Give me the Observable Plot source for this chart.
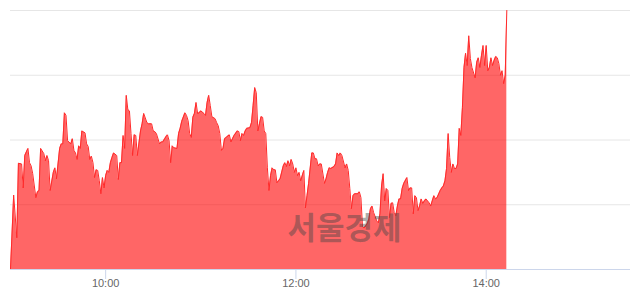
<!DOCTYPE html>
<html>
<head>
<meta charset="utf-8">
<script src="https://cdn.jsdelivr.net/npm/d3@7"></script>
<script src="https://cdn.jsdelivr.net/npm/@observablehq/plot@0.6"></script>
<style>
  html, body { margin: 0; padding: 0; background: #fff; }
  #chart { width: 640px; height: 294px; }
</style>
</head>
<body>
<div id="chart"></div>
<script>
const times = [
"9:00","9:02","9:04","9:05","9:07","9:08","9:09","9:11","9:12","9:13","9:14","9:16","9:17","9:18","9:19","9:21","9:22","9:23","9:24","9:25","9:27","9:28","9:29","9:31","9:32","9:33","9:34","9:35","9:36","9:38","9:39","9:40","9:41","9:42","9:43","9:44","9:45","9:47","9:48","9:49",
"9:50","9:51","9:52","9:53","9:54","9:55","9:56","9:57","9:58","9:59","10:00","10:01","10:02","10:03","10:04","10:05","10:07","10:08","10:09","10:10","10:11","10:12","10:13","10:14","10:15","10:16","10:17","10:18","10:19","10:20",
"10:22","10:23","10:24","10:26","10:27","10:29","10:30","10:31","10:32","10:34","10:35","10:36","10:38","10:39","10:40","10:41","10:42","10:43","10:45","10:46","10:47","10:48","10:50","10:51","10:52","10:53","10:54","10:55","10:56","10:57",
"10:58","10:59","11:00","11:02","11:03","11:04","11:05","11:06","11:07","11:09","11:10","11:11","11:12","11:13","11:14","11:15","11:16","11:18","11:19","11:20","11:21","11:23","11:24","11:25","11:26","11:27","11:28","11:29","11:31","11:32",
"11:33","11:34","11:35","11:36","11:37","11:38","11:39","11:40","11:41","11:42","11:43","11:44","11:45","11:46","11:47","11:48","11:49","11:50","11:52","11:53","11:54","11:55","11:56","11:57","11:58","11:59","12:00","12:01","12:02","12:03",
"12:05","12:06","12:07","12:08","12:10","12:11","12:12","12:13","12:14","12:15","12:16","12:18","12:19","12:20","12:21","12:22","12:24","12:25","12:26","12:27","12:28","12:29","12:31","12:32","12:33","12:34","12:35","12:36","12:37","12:39",
"12:40","12:41","12:42","12:43","12:45","12:46","12:47","12:48","12:49","12:51","12:52","12:53","12:54","12:55","12:56","12:57","12:58","12:59","13:00","13:01","13:02","13:03","13:04","13:05","13:06","13:07","13:08","13:10","13:11","13:12",
"13:13","13:14","13:15","13:16","13:17","13:18","13:19","13:20","13:21","13:22","13:24","13:25","13:26","13:27","13:28","13:29","13:31","13:32","13:33","13:34","13:35","13:36","13:37","13:38","13:39","13:40","13:41","13:42","13:43","13:44",
"13:45","13:46","13:47","13:48","13:49","13:50","13:51","13:53","13:54","13:55","13:56","13:57","13:58","13:59","14:00","14:01","14:02","14:03","14:04","14:05","14:06","14:07","14:08","14:09","14:10","14:11","14:12","14:13"
];
const prices = [
2000,2115,2049,2164,2163,2126,2176,2187,2165,2160,2148,2111,2120,2122,2187,2179,2168,2176,2168,2122,2150,2157,2140,2187,2194,2194,2242,2238,2199,2194,2202,2184,2180,2170,2191,2187,2214,2211,2194,2190,
2170,2175,2165,2142,2154,2153,2137,2117,2142,2126,2145,2153,2150,2165,2173,2180,2176,2139,2165,2165,2207,2187,2269,2247,2245,2210,2176,2208,2207,2176,
2214,2225,2241,2227,2225,2225,2214,2213,2210,2194,2197,2197,2205,2208,2199,2165,2191,2188,2187,2210,2218,2229,2242,2238,2230,2210,2204,2235,2241,2258,
2241,2242,2245,2241,2238,2258,2269,2253,2236,2233,2227,2222,2210,2184,2187,2202,2204,2208,2197,2202,2207,2214,2213,2199,2210,2207,2214,2218,2219,2227,
2253,2281,2273,2214,2225,2236,2235,2214,2210,2157,2122,2145,2157,2154,2154,2134,2137,2140,2160,2165,2159,2168,2160,2170,2163,2150,2157,2145,2150,2137,
2153,2095,2114,2133,2180,2180,2171,2171,2160,2163,2163,2133,2140,2150,2157,2156,2159,2163,2180,2176,2180,2176,2157,2163,2153,2125,2094,2114,2117,2117,
2120,2111,2066,2064,2071,2078,2094,2098,2088,2075,2072,2086,2129,2148,2106,2125,2122,2080,2102,2103,2088,2083,2098,2109,2109,2125,2133,2142,2122,2126,
2126,2086,2114,2111,2091,2098,2109,2102,2106,2109,2103,2098,2106,2114,2109,2111,2122,2126,2129,2137,2156,2210,2173,2150,2163,2156,2156,2163,2218,2207,
2250,2312,2334,2315,2361,2326,2312,2296,2320,2327,2312,2330,2346,2315,2346,2307,2312,2327,2315,2323,2329,2327,2318,2300,2307,2287,2300,2400
];
const tickTimes = ["10:00","12:00","14:00"];
const gridValues = [2100, 2200, 2300, 2400];
const baseValue = 2000;
const topValue = 2400;
const domainTimes = ["9:00","15:31"];
const watermark = "서울경제";

const toDate = s => { const [h, m] = s.split(":").map(Number); return new Date(Date.UTC(2024, 0, 2, h, m)); };
const data = times.map((t, i) => ({ t: toDate(t), v: prices[i] }));
const fmt = d3.utcFormat("%H:%M");

const chart = Plot.plot({
  width: 640,
  height: 294,
  marginTop: 10,
  marginBottom: 25,
  marginLeft: 10,
  marginRight: 10,
  style: { fontFamily: "'Liberation Sans', Arial, sans-serif", background: "#fff" },
  x: { type: "utc", domain: domainTimes.map(toDate), label: null },
  y: { domain: [baseValue, topValue], axis: null },
  marks: [
    Plot.ruleY(gridValues, { stroke: "#e6e6e6", strokeWidth: 1 }),
    Plot.areaY(data, { x: "t", y1: () => baseValue, y2: "v", fill: "#ff0000", fillOpacity: 0.6, curve: "linear" }),
    Plot.lineY(data, { x: "t", y: "v", stroke: "#ff2a2a", strokeWidth: 1, curve: "linear" }),
    Plot.text([watermark], { frameAnchor: "bottom", dx: 24, dy: -31, fontSize: 31, fontWeight: "bold", fill: "#444", fillOpacity: 0.45, fontFamily: "'Noto Sans CJK KR', sans-serif" }),
    Plot.ruleY([baseValue], { stroke: "#ccd6eb", strokeWidth: 1 }),
    Plot.axisX({ ticks: tickTimes.map(toDate), tickSize: 10, tickFormat: () => "", stroke: "#ccd6eb" }),
    Plot.axisX({ ticks: tickTimes.map(toDate), tickSize: 0, tickPadding: 10, tickFormat: fmt, fill: "#666", fontSize: 11 })
  ]
});
document.getElementById("chart").appendChild(chart);
</script>
</body>
</html>
